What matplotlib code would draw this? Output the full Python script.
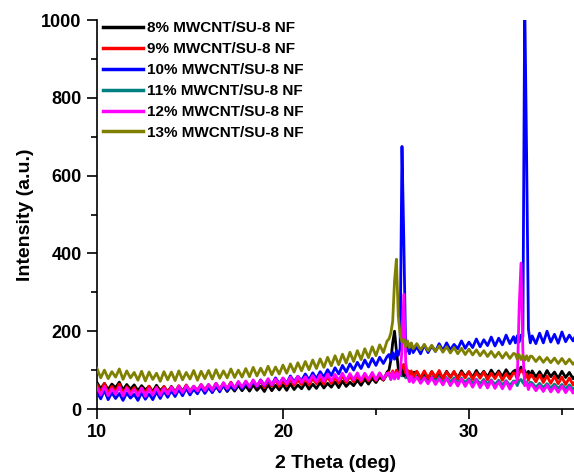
import matplotlib
matplotlib.use("Agg")
import matplotlib.pyplot as plt
from matplotlib.ticker import MultipleLocator

plt.rcParams['font.family'] = ['Liberation Sans', 'DejaVu Sans']
plt.rcParams['font.weight'] = 'bold'

two_theta = [
    10.0,10.2,10.4,10.6,10.8,11.0,11.2,11.4,11.6,11.8,
    12.0,12.2,12.4,12.6,12.8,13.0,13.2,13.4,13.6,13.8,
    14.0,14.2,14.4,14.6,14.8,15.0,15.2,15.4,15.6,15.8,
    16.0,16.2,16.4,16.6,16.8,17.0,17.2,17.4,17.6,17.8,
    18.0,18.2,18.4,18.6,18.8,19.0,19.2,19.4,19.6,19.8,
    20.0,20.2,20.4,20.6,20.8,21.0,21.2,21.4,21.6,21.8,
    22.0,22.2,22.4,22.6,22.8,23.0,23.2,23.4,23.6,23.8,
    24.0,24.2,24.4,24.6,24.8,25.0,25.2,25.4,25.6,
    25.7,25.8,25.9,26.0,26.1,26.2,26.3,26.4,26.5,26.6,26.7,26.8,26.9,27.0,
    27.2,27.4,27.6,27.8,28.0,28.2,28.4,28.6,28.8,29.0,29.2,29.4,29.6,29.8,
    30.0,30.2,30.4,30.6,30.8,31.0,31.2,31.4,31.6,31.8,32.0,32.2,32.4,
    32.5,32.6,32.7,32.8,32.9,33.0,33.1,33.2,33.3,
    33.4,33.6,33.8,34.0,34.2,34.4,34.6,34.8,35.0,35.2,35.4,35.6,35.8]

i_8 = [
    68,52,66,50,64,55,69,49,63,51,
    62,47,60,49,58,45,61,47,57,44,
    58,43,56,46,59,42,55,45,57,43,
    59,44,57,47,60,45,58,46,61,47,
    60,46,62,48,59,45,63,47,61,49,
    63,48,65,50,62,52,67,51,64,53,
    68,54,66,56,70,55,72,58,69,60,
    74,61,77,64,79,68,82,74,95,
    100,125,170,200,150,105,92,105,85,95,82,96,80,94,
    95,80,94,78,96,81,93,79,97,82,95,80,98,83,
    96,81,99,84,97,82,100,85,98,83,101,86,97,
    100,84,98,108,95,99,84,97,83,
    98,82,96,80,99,83,95,79,97,81,94,78,90]

i_9 = [
    62,42,66,40,58,44,64,38,57,42,
    55,38,54,41,59,40,56,39,58,43,
    57,42,60,44,62,46,58,48,63,49,
    62,48,66,50,64,52,69,51,67,53,
    70,54,72,56,74,55,71,59,75,58,
    73,60,77,61,75,63,79,62,78,65,
    80,64,83,66,81,67,86,68,84,70,
    87,70,88,72,90,73,92,75,90,
    95,80,98,82,100,88,96,110,115,92,100,84,98,82,
    97,80,98,79,96,82,99,78,95,81,97,77,94,80,
    96,76,93,79,95,75,92,78,94,74,91,77,93,
    90,75,92,98,102,80,90,74,88,
    86,70,88,68,85,66,84,65,82,63,80,62,78]

i_10 = [
    45,26,48,24,42,27,40,22,41,28,
    38,22,42,25,39,24,44,27,46,30,
    47,32,50,34,53,36,51,39,56,40,
    55,42,60,44,63,47,62,50,68,52,
    67,55,72,57,75,60,74,62,80,65,
    79,66,85,70,84,73,90,75,93,78,
    96,82,101,86,106,90,112,95,116,100,
    120,104,126,108,130,112,133,117,135,
    140,125,145,128,150,138,155,675,430,145,165,142,168,145,
    160,142,165,145,162,148,168,150,170,152,166,155,175,156,
    172,158,180,160,178,163,185,162,182,165,190,168,186,
    170,188,172,190,185,1050,660,205,170,
    188,168,195,170,200,172,192,169,198,173,190,175,195]

i_11 = [
    56,40,58,39,55,42,57,40,54,41,
    52,38,55,40,56,41,53,42,57,43,
    56,44,59,46,60,47,58,49,62,50,
    63,50,65,52,66,53,68,54,67,56,
    70,57,72,58,73,60,74,61,75,62,
    76,63,78,64,77,66,80,66,81,68,
    82,68,84,69,83,70,86,71,85,72,
    86,72,88,73,87,74,89,75,88,
    90,76,92,78,93,80,90,85,94,80,88,76,86,75,
    85,72,84,70,83,71,82,69,81,70,80,67,79,68,
    78,66,77,65,76,64,75,63,74,62,73,61,72,
    71,60,73,76,68,62,70,58,69,
    67,56,66,55,65,54,64,53,63,52,62,51,60]

i_12 = [
    55,36,58,34,52,38,56,33,54,37,
    50,34,54,32,52,36,55,35,53,38,
    56,40,58,42,60,44,59,46,63,47,
    63,48,66,50,68,52,67,54,71,56,
    72,57,75,59,74,61,78,62,77,64,
    80,65,82,66,84,68,83,69,86,70,
    88,71,90,72,89,74,92,73,91,75,
    93,74,92,76,94,75,93,77,92,
    92,76,94,77,93,78,95,150,295,120,85,70,84,68,
    82,66,80,65,81,63,78,62,79,60,76,59,77,58,
    74,56,75,55,72,54,73,53,70,52,71,51,69,
    68,75,260,375,150,60,68,50,64,
    62,47,60,45,61,44,58,43,59,42,56,41,55]

i_13 = [
    104,80,100,78,96,82,103,76,98,80,
    94,74,97,72,95,76,92,71,96,75,
    95,73,98,75,94,77,99,74,97,78,
    99,77,101,79,98,80,103,81,100,82,
    104,83,107,85,105,87,110,88,108,90,
    113,92,116,95,119,98,122,101,126,104,
    129,107,133,111,137,114,141,118,146,122,
    150,127,155,132,160,137,165,145,175,
    180,195,225,330,385,240,190,172,178,160,175,158,170,155,
    168,152,166,150,164,148,162,146,160,144,158,142,156,140,
    154,139,152,137,150,135,148,133,146,131,145,130,143,
    141,128,140,127,138,125,137,124,136,
    135,122,134,120,132,119,131,117,130,116,128,115,126]

labels = ["8% MWCNT/SU-8 NF", "9% MWCNT/SU-8 NF", "10% MWCNT/SU-8 NF",
          "11% MWCNT/SU-8 NF", "12% MWCNT/SU-8 NF", "13% MWCNT/SU-8 NF"]
series = [i_8, i_9, i_10, i_11, i_12, i_13]
colors = ["#000000", "#FF0000", "#0000FF", "#008080", "#FF00FF", "#808000"]
zorders = [3, 4, 5, 2, 6, 7]

fig = plt.figure(figsize=(5.74, 4.76), dpi=100)
ax = fig.add_axes([97/574, 67/476, 1 - 97/574, (409-20)/476])

handles = []
for y, c, lab, z in zip(series, colors, labels, zorders):
    h, = ax.plot(two_theta, y, color=c, lw=2.0, label=lab, zorder=z)
    handles.append(h)

ax.set_xlim(10, 35.65)
ax.set_ylim(0, 1000)
ax.xaxis.set_major_locator(MultipleLocator(10))
ax.xaxis.set_minor_locator(MultipleLocator(5))
ax.yaxis.set_major_locator(MultipleLocator(200))
ax.yaxis.set_minor_locator(MultipleLocator(100))
ax.tick_params(which='major', direction='out', length=7, width=1.2, labelsize=13, pad=4)
ax.tick_params(which='minor', direction='out', length=4, width=1.2)
for lab in ax.get_xticklabels() + ax.get_yticklabels():
    lab.set_fontweight('bold')
ax.spines['top'].set_visible(False)
ax.spines['right'].set_visible(False)
ax.spines['left'].set_linewidth(1.2)
ax.spines['bottom'].set_linewidth(1.2)

ax.set_xlabel("2 Theta (deg)", fontsize=14, fontweight='bold', labelpad=10)
ax.set_ylabel("Intensity (a.u.)", fontsize=14, fontweight='bold', labelpad=5)

leg = ax.legend(handles=handles, loc='upper left', bbox_to_anchor=(0.0, 1.012),
                frameon=False, fontsize=11, handlelength=2.6, handletextpad=0.3,
                labelspacing=0.45, borderaxespad=0.2, borderpad=0.2)
for t in leg.get_texts():
    t.set_fontweight('bold')
for l in leg.get_lines():
    l.set_linewidth(2.5)

fig.savefig("out.png", dpi=100)
